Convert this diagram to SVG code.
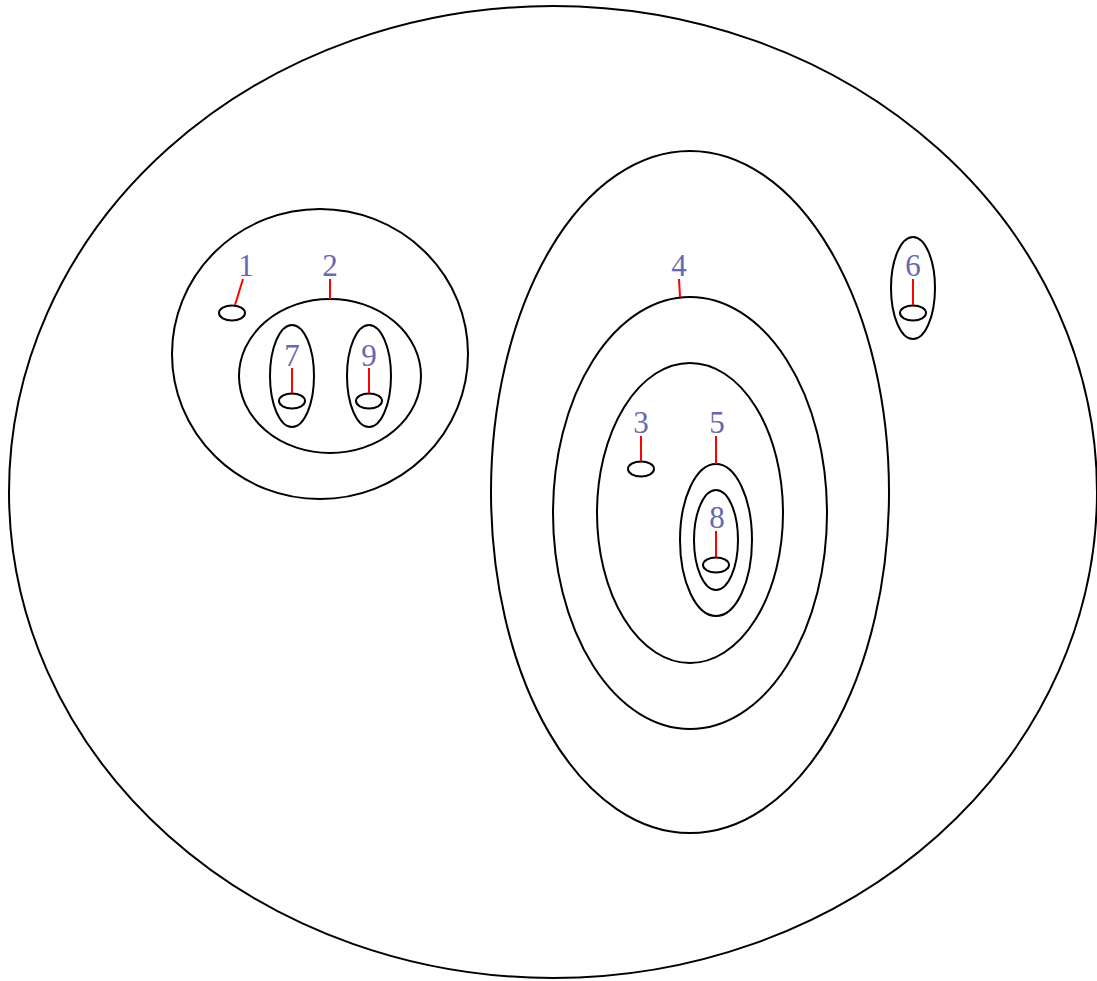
<svg xmlns="http://www.w3.org/2000/svg" width="1097" height="981" viewBox="0 0 1097 981">
<style>
.r{fill:none;stroke:#000;stroke-width:2}
.c{fill:none;stroke:#f00;stroke-width:2}
.t{font-family:"Liberation Serif",serif;font-size:31px;fill:#6868b0;text-anchor:middle}
</style>
<rect width="1097" height="981" fill="#fff"/>
<g id="outer"><ellipse class="r" cx="553" cy="492" rx="544" ry="486"/></g>
<g id="regionA"><ellipse class="r" cx="320" cy="354" rx="148" ry="145"/></g>
<g id="node1"><ellipse class="r" cx="232" cy="313" rx="13" ry="7.5"/><text class="t" x="246" y="276">1</text></g>
<g id="node2"><ellipse class="r" cx="330" cy="376" rx="91" ry="77"/><text class="t" x="330" y="276">2</text></g>
<g id="node7"><ellipse class="r" cx="292" cy="376" rx="22" ry="51"/><ellipse class="r" cx="292" cy="401" rx="13" ry="7.5"/><text class="t" x="292" y="366">7</text></g>
<g id="node9"><ellipse class="r" cx="369" cy="376" rx="22" ry="51"/><ellipse class="r" cx="369" cy="401" rx="13" ry="7.5"/><text class="t" x="369" y="366">9</text></g>
<g id="regionB"><ellipse class="r" cx="690" cy="492" rx="199" ry="341"/></g>
<g id="node4"><ellipse class="r" cx="690" cy="513" rx="137" ry="216"/><text class="t" x="679" y="276">4</text></g>
<g id="regionC"><ellipse class="r" cx="690" cy="513" rx="93" ry="150"/></g>
<g id="node3"><ellipse class="r" cx="641" cy="469" rx="13" ry="7.5"/><text class="t" x="641" y="433">3</text></g>
<g id="node5"><ellipse class="r" cx="716" cy="540" rx="36" ry="76"/><text class="t" x="717" y="433">5</text></g>
<g id="node8"><ellipse class="r" cx="716" cy="540" rx="22" ry="50"/><ellipse class="r" cx="716" cy="565" rx="13" ry="7.5"/><text class="t" x="717" y="528">8</text></g>
<g id="node6"><ellipse class="r" cx="913" cy="288" rx="22" ry="51"/><ellipse class="r" cx="913" cy="313" rx="13" ry="7.5"/><text class="t" x="913" y="276">6</text></g>
<g id="connectors">
<line class="c" x1="243" y1="279" x2="235" y2="305"/>
<line class="c" x1="330" y1="279" x2="330" y2="299"/>
<line class="c" x1="292" y1="368" x2="292" y2="393"/>
<line class="c" x1="369" y1="368" x2="369" y2="393"/>
<line class="c" x1="679" y1="279" x2="680" y2="297"/>
<line class="c" x1="641" y1="436" x2="641" y2="461"/>
<line class="c" x1="716" y1="436" x2="716" y2="464"/>
<line class="c" x1="716" y1="531" x2="716" y2="557"/>
<line class="c" x1="913" y1="279" x2="913" y2="305"/>
</g>
</svg>
